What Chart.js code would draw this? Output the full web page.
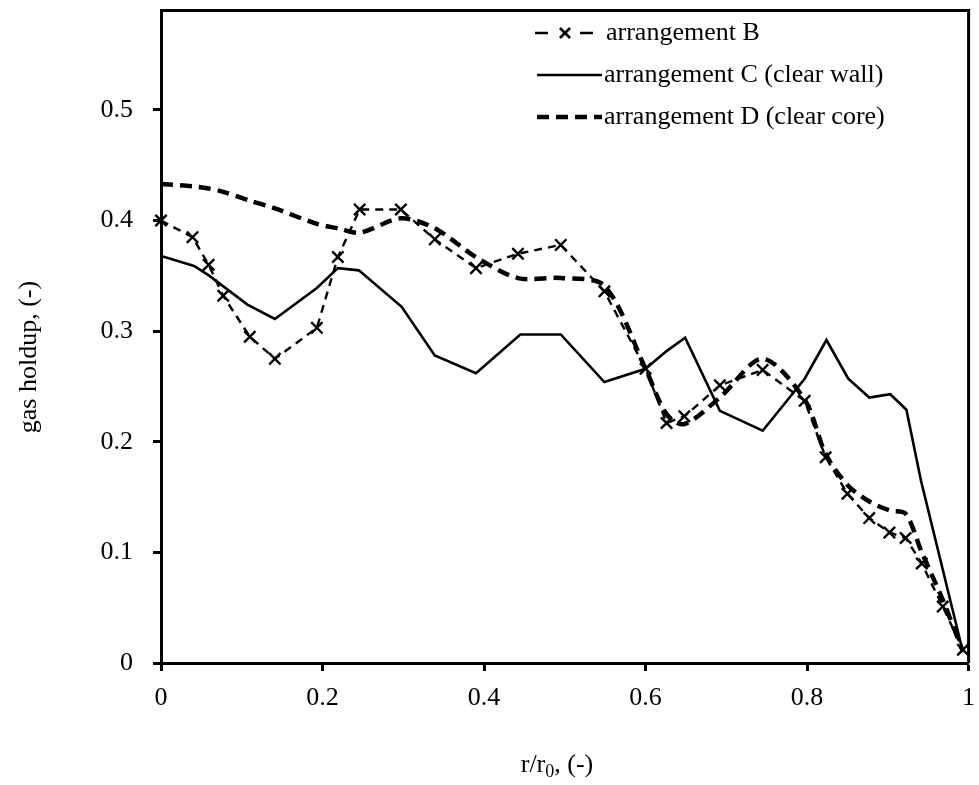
<!DOCTYPE html>
<html>
<head>
<meta charset="utf-8">
<script src="https://cdn.jsdelivr.net/npm/chart.js@4.4.1/dist/chart.umd.min.js"></script>
<style>
  html, body { margin: 0; padding: 0; background: #fff; }
  #wrap { width: 979px; height: 785px; position: relative; }
</style>
</head>
<body>
<div id="wrap"><canvas id="c" width="979" height="785"></canvas></div>
<script>
// Radial position r/r0 and gas holdup for each tray arrangement
const rB = [0, 0.039, 0.059, 0.077, 0.110, 0.141, 0.193, 0.219, 0.246, 0.297, 0.339, 0.390, 0.442, 0.495, 0.549, 0.600, 0.626, 0.648, 0.692, 0.745, 0.797, 0.823, 0.850, 0.877, 0.902, 0.922, 0.942, 0.968, 0.993];
const holdupB = [0.400, 0.385, 0.360, 0.332, 0.295, 0.275, 0.303, 0.367, 0.410, 0.410, 0.383, 0.357, 0.370, 0.378, 0.336, 0.266, 0.217, 0.223, 0.251, 0.265, 0.237, 0.186, 0.153, 0.131, 0.118, 0.113, 0.090, 0.051, 0.012];

const rC = [0, 0.041, 0.060, 0.107, 0.141, 0.193, 0.219, 0.245, 0.298, 0.339, 0.390, 0.445, 0.495, 0.549, 0.600, 0.626, 0.649, 0.692, 0.745, 0.797, 0.824, 0.851, 0.877, 0.903, 0.923, 0.941, 0.993];
const holdupC = [0.368, 0.359, 0.350, 0.324, 0.311, 0.339, 0.357, 0.355, 0.322, 0.278, 0.262, 0.297, 0.297, 0.254, 0.266, 0.282, 0.294, 0.228, 0.210, 0.257, 0.292, 0.257, 0.240, 0.243, 0.229, 0.165, 0.010];

const rD = [0, 0.039, 0.059, 0.077, 0.110, 0.141, 0.193, 0.219, 0.246, 0.297, 0.339, 0.390, 0.442, 0.495, 0.549, 0.600, 0.626, 0.648, 0.692, 0.745, 0.797, 0.823, 0.850, 0.877, 0.902, 0.922, 0.942, 0.968, 0.993];
const holdupD = [0.433, 0.431, 0.429, 0.426, 0.418, 0.411, 0.397, 0.393, 0.389, 0.402, 0.393, 0.367, 0.348, 0.348, 0.341, 0.266, 0.225, 0.216, 0.240, 0.275, 0.238, 0.189, 0.161, 0.146, 0.138, 0.135, 0.100, 0.057, 0.010];

const seriesNames = ['arrangement B', 'arrangement C (clear wall)', 'arrangement D (clear core)'];
const xTicks = [0, 0.2, 0.4, 0.6, 0.8, 1];
const yTicks = [0, 0.1, 0.2, 0.3, 0.4, 0.5];
const xTitle = ['r/r', '0', ', (-)'];
const yTitle = 'gas holdup, (-)';

const FONT = "'Liberation Serif', 'Times New Roman', serif";
const FS = 26;

const toXY = (xs, ys) => xs.map((x, i) => ({ x: x, y: ys[i] }));

// Box round the plot area, axis titles and an in-plot legend
const framePlugin = {
  id: 'frame',
  afterDraw(chart) {
    const { ctx, chartArea: a } = chart;
    ctx.save();
    ctx.strokeStyle = '#000';
    ctx.lineWidth = 3;
    ctx.beginPath();
    ctx.moveTo(a.left, a.top);
    ctx.lineTo(a.right, a.top);
    ctx.lineTo(a.right, a.bottom);
    ctx.stroke();

    ctx.fillStyle = '#000';
    // y axis title
    ctx.save();
    ctx.translate(29, 357);
    ctx.rotate(-Math.PI / 2);
    ctx.font = FS + 'px ' + FONT;
    ctx.textAlign = 'center';
    ctx.textBaseline = 'middle';
    ctx.fillText(yTitle, 0, 0);
    ctx.restore();

    // x axis title with subscript
    ctx.font = FS + 'px ' + FONT;
    const subFont = Math.round(FS * 0.68) + 'px ' + FONT;
    const w0 = ctx.measureText(xTitle[0]).width;
    ctx.font = subFont;
    const w1 = ctx.measureText(xTitle[1]).width;
    ctx.font = FS + 'px ' + FONT;
    const w2 = ctx.measureText(xTitle[2]).width;
    let x = 557 - (w0 + w1 + w2) / 2;
    const base = 772;
    ctx.textAlign = 'left';
    ctx.textBaseline = 'alphabetic';
    ctx.fillText(xTitle[0], x, base); x += w0;
    ctx.font = subFont;
    ctx.fillText(xTitle[1], x, base + 5); x += w1;
    ctx.font = FS + 'px ' + FONT;
    ctx.fillText(xTitle[2], x, base);

    // legend
    const rows = [33, 75, 117];
    const ds = chart.data.datasets;
    ds.forEach((d, i) => {
      const y = rows[i];
      ctx.save();
      ctx.strokeStyle = '#000';
      ctx.lineWidth = d.borderWidth;
      if (i === 0) {
        ctx.beginPath();
        ctx.moveTo(535, y); ctx.lineTo(548, y);
        ctx.moveTo(580, y); ctx.lineTo(593, y);
        ctx.stroke();
        Chart.helpers.drawPoint(ctx, {
          pointStyle: 'crossRot', radius: 7, borderWidth: 2.4, rotation: 0
        }, 565, y);
        ctx.stroke();
      } else {
        ctx.setLineDash(d.borderDash || []);
        ctx.beginPath();
        ctx.moveTo(537, y); ctx.lineTo(602, y);
        ctx.stroke();
      }
      ctx.restore();
      ctx.font = FS + 'px ' + FONT;
      ctx.fillStyle = '#000';
      ctx.textAlign = 'left';
      ctx.textBaseline = 'middle';
      ctx.fillText(d.label, i === 0 ? 606 : 604, y);
    });
    ctx.restore();
  }
};

new Chart(document.getElementById('c'), {
  type: 'scatter',
  data: {
    datasets: [
      {
        label: seriesNames[0],
        data: toXY(rB, holdupB),
        showLine: true,
        borderColor: '#000',
        backgroundColor: '#000',
        borderWidth: 2.4,
        borderDash: [8, 6],
        pointStyle: 'crossRot',
        pointRadius: 8,
        pointBorderWidth: 2.4,
        pointBorderColor: '#000',
        clip: false
      },
      {
        label: seriesNames[1],
        data: toXY(rC, holdupC),
        showLine: true,
        borderColor: '#000',
        borderWidth: 2.6,
        pointRadius: 0
      },
      {
        label: seriesNames[2],
        data: toXY(rD, holdupD),
        showLine: true,
        borderColor: '#000',
        borderWidth: 4.5,
        borderDash: [12, 7],
        tension: 0.3,
        pointRadius: 0
      }
    ]
  },
  options: {
    responsive: false,
    animation: false,
    events: [],
    layout: { padding: { top: 9, right: 6, left: 0, bottom: 0 } },
    plugins: { legend: { display: false }, tooltip: { enabled: false } },
    scales: {
      x: {
        type: 'linear',
        min: 0, max: 1,
        afterFit(s) { s.height = 122; s.paddingLeft = 0; s.paddingRight = 0; },
        afterBuildTicks(s) { s.ticks = xTicks.map(v => ({ value: v })); },
        ticks: {
          color: '#000',
          font: { family: FONT, size: FS },
          padding: 12,
          maxRotation: 0,
          callback: v => String(Math.round(v * 10) / 10)
        },
        grid: { drawOnChartArea: false, drawTicks: true, tickLength: 8, tickWidth: 3, color: '#000' },
        border: { display: true, color: '#000', width: 3 }
      },
      y: {
        type: 'linear',
        min: 0, max: 0.59,
        afterFit(s) { s.width = 161; s.paddingTop = 0; s.paddingBottom = 0; },
        afterBuildTicks(s) { s.ticks = yTicks.map(v => ({ value: v })); },
        ticks: {
          color: '#000',
          font: { family: FONT, size: FS },
          padding: 20,
          callback: v => String(Math.round(v * 10) / 10)
        },
        grid: { drawOnChartArea: false, drawTicks: true, tickLength: 8, tickWidth: 3, color: '#000' },
        border: { display: true, color: '#000', width: 3 }
      }
    }
  },
  plugins: [framePlugin]
});
</script>
</body>
</html>
